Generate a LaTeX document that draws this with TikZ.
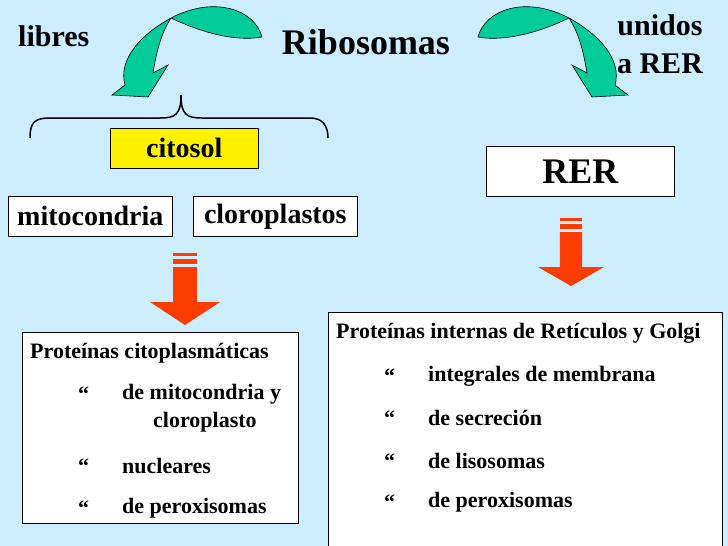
\documentclass[tikz,border=0pt]{standalone}
\usepackage{fontspec}
\setmainfont{Liberation Serif}
\definecolor{bgc}{RGB}{204,236,255}
\definecolor{grn}{RGB}{0,204,153}
\definecolor{org}{RGB}{255,60,0}
\begin{document}
\begin{tikzpicture}[x=1pt,y=-1pt,
 box/.style={draw=black,line width=0.6pt,fill=white,inner sep=0pt},
 lbl/.style={font=\bfseries\fontsize{#1}{#1}\selectfont,inner sep=0pt},
 green/.style={fill=grn,draw=black,line width=0.6pt},
 orange/.style={fill=org}]
\fill[bgc] (0,0) rectangle (728,546);
\useasboundingbox (0,0) rectangle (728,546);
% green arrows
\path[green] (171,18) .. controls (215,-5) and (255,10) .. (262,37) .. controls (235,42) and (200,32) .. (171,18)
  .. controls (160,35) and (156,55) .. (153,73) -- (168,65) -- (148,97) -- (112,95) -- (125,85) .. controls (118,60) and (140,35) .. (171,18) -- cycle;
\begin{scope}[xshift=740pt,xscale=-1]
\path[green] (171,18) .. controls (215,-5) and (255,10) .. (262,37) .. controls (235,42) and (200,32) .. (171,18)
  .. controls (160,35) and (156,55) .. (153,73) -- (168,65) -- (148,97) -- (112,95) -- (125,85) .. controls (118,60) and (140,35) .. (171,18) -- cycle;
\end{scope}
\node[lbl=30,anchor=west] (libres) at (18,36) {libres};
\node[lbl=36] (ribo) at (366,42) {Ribosomas};
\node[lbl=30,align=center,anchor=north] (unidos) at (660,14) {unidos\\[8pt]a RER};
% brace
\draw[line width=1.5pt] (30,138) .. controls (30,122) and (35,118) .. (50,118) -- (160,118) .. controls (175,118) and (181,115) .. (181,95)
  .. controls (181,115) and (187,118) .. (202,118) -- (310,118) .. controls (322,118) and (328,125) .. (328,138);
\node[box,fill=yellow,minimum width=148pt,minimum height=40pt,anchor=north west,label={[lbl=28]center:citosol}] (cit) at (110,128) {};
\node[box,minimum width=164pt,minimum height=40pt,anchor=north west,label={[lbl=28]center:mitocondria}] (mit) at (8,196) {};
\node[box,minimum width=164pt,minimum height=40pt,anchor=north west,label={[lbl=28]center:cloroplastos}] (clo) at (193,196) {};
\node[box,minimum width=188pt,minimum height=50pt,anchor=north west,label={[lbl=36]center:RER}] (rer) at (486,146) {};
% orange arrows
\foreach \x/\y/\w in {150/253/70,538/218/66}{
 \begin{scope}[shift={(\x,\y)}]
  \fill[orange] (\w*0.33,0) rectangle (\w*0.67,3);
  \fill[orange] (\w*0.33,6) rectangle (\w*0.67,11);
  \fill[orange] (\w*0.33,14) -- (\w*0.67,14) -- (\w*0.67,49) -- (\w,49) -- (\w*0.5,\w*1.0+2) -- (0,49) -- (\w*0.33,49) -- cycle;
 \end{scope}}
% bottom boxes
\node[box,minimum width=276pt,minimum height=191pt,anchor=north west] (lb) at (22,332) {};
\draw[line width=0.6pt,fill=white] (328,548) -- (328,312) -- (722,312) -- (722,548);
\node[coordinate] (rb) at (328,312) {};
\begin{scope}[every node/.style={lbl=22,anchor=west}]
\node (l0) at (30,353) {Proteínas citoplasmáticas};
\node (l1b) at (78,394) {“}; \node (l1) at (122,394) {de mitocondria y};
\node (l1c) at (153,422) {cloroplasto};
\node (l2b) at (78,466) {“}; \node (l2) at (122,466) {nucleares};
\node (l3b) at (78,508) {“}; \node (l3) at (122,508) {de peroxisomas};
\node (r0) at (336,333) {Proteínas internas de Retículos y Golgi};
\node (r1b) at (384,376) {“}; \node (r1) at (428,376) {integrales de membrana};
\node (r2b) at (384,418) {“}; \node (r2) at (428,418) {de secreción};
\node (r3b) at (384,461) {“}; \node (r3) at (428,461) {de lisosomas};
\node (r4b) at (384,502) {“}; \node (r4) at (428,502) {de peroxisomas};
\end{scope}
\end{tikzpicture}
\end{document}
